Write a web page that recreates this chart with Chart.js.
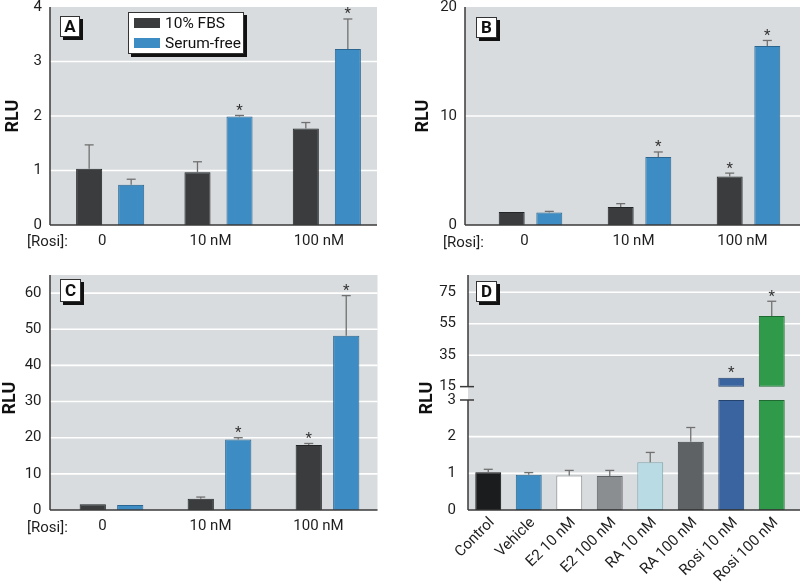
<!DOCTYPE html>
<html><head><meta charset="utf-8">
<script src="https://cdn.jsdelivr.net/npm/chart.js@4/dist/chart.umd.min.js"></script>
<style>
html,body{margin:0;padding:0;background:#fff;width:800px;height:586px;overflow:hidden}
#wrap{position:relative;width:800px;height:586px;overflow:hidden;background:#fff}
canvas{position:absolute}
</style></head><body>
<div id="wrap">
<canvas id="cA" width="400" height="260" style="left:0;top:0"></canvas>
<canvas id="cB" width="410" height="260" style="left:400px;top:0"></canvas>
<canvas id="cC" width="400" height="300" style="left:0;top:260px"></canvas>
<canvas id="cD" width="400" height="326" style="left:400px;top:260px"></canvas>
</div>
<script>
// ---------- data ----------
const rosiLabels = ['0', '10 nM', '100 nM'];
const seriesNames = ['10% FBS', 'Serum-free'];

const aFBS = [1.03, 0.97, 1.77];
const aFBSErr = [0.44, 0.19, 0.11];
const aFBSSig = [false, false, false];
const aSF = [0.74, 1.99, 3.23];
const aSFErr = [0.10, 0.02, 0.55];
const aSFSig = [false, true, true];
const aTicks = [0, 1, 2, 3, 4];

const bFBS = [1.2, 1.66, 4.45];
const bFBSErr = [0.03, 0.30, 0.31];
const bFBSSig = [false, false, true];
const bSF = [1.15, 6.24, 16.43];
const bSFErr = [0.10, 0.46, 0.50];
const bSFSig = [false, true, true];
const bTicks = [0, 10, 20];

const cFBS = [1.56, 3.1, 18.0];
const cFBSErr = [0.05, 0.48, 0.40];
const cFBSSig = [false, false, true];
const cSF = [1.38, 19.5, 48.2];
const cSFErr = [0.05, 0.50, 11.1];
const cSFSig = [false, true, true];
const cTicks = [0, 10, 20, 30, 40, 50, 60];

const dLabels = ['Control', 'Vehicle', 'E2 10 nM', 'E2 100 nM', 'RA 10 nM', 'RA 100 nM', 'Rosi 10 nM', 'Rosi 100 nM'];
const dValues = [1.03, 0.96, 0.94, 0.93, 1.30, 1.86, 20.7, 59.9];
const dErr = [0.08, 0.06, 0.14, 0.15, 0.27, 0.39, 0.40, 9.4];
const dSig = [false, false, false, false, false, false, true, true];
const dLowTicks = [0, 1, 2, 3];
const dHighTicks = [15, 35, 55, 75];
const dLowMax = 3;
const dHighMin = 15;

// ---------- styles ----------
const FONT = "Roboto,'Liberation Sans',Arial,sans-serif";
const BG = '#d9dcde';
const AXIS = '#3a3a3a';
const ERR = '#707070';
const TXT = '#1e1e1e';
const FS = 15;
const seriesColors = ['#3a3c3e', '#3d8dc4'];
const seriesBorders = ['#232527', '#2b6690'];
const dColors = ['#1b1c1e', '#3d8dc4', '#ffffff', '#8b8e90', '#b8dbe4', '#5f6264', '#3a64a0', '#2f9a4a'];
const dBorders = ['#101112', '#2b6690', '#8a8c8e', '#5e6163', '#7fa3ad', '#3d4042', '#24446f', '#1f6a33'];

Chart.defaults.font.family = FONT;
Chart.defaults.color = TXT;

function hline(ctx, x1, x2, y) { ctx.beginPath(); ctx.moveTo(x1, y); ctx.lineTo(x2, y); ctx.stroke(); }
function vline(ctx, x, y1, y2) { ctx.beginPath(); ctx.moveTo(x, y1); ctx.lineTo(x, y2); ctx.stroke(); }
function noPad(s) { s.paddingTop = 0; s.paddingBottom = 0; s.paddingLeft = 0; s.paddingRight = 0; }

const deco = {
  id: 'deco',
  beforeDatasetsDraw(chart, args, o) {
    const { ctx, chartArea: ca } = chart;
    const L = ca.left - o.bgL, R = o.bgR === 'edge' ? chart.width : ca.right + o.bgR;
    ctx.save();
    ctx.fillStyle = BG;
    ctx.fillRect(L, ca.top, R - L, ca.bottom - ca.top);
    ctx.strokeStyle = '#ffffff'; ctx.lineWidth = 1.6;
    o.grid.forEach(g => {
      const s = chart.scales[g.axis];
      g.values.forEach(v => hline(ctx, L, R, s.getPixelForValue(v)));
    });
    ctx.restore();
  },
  afterDatasetsDraw(chart, args, o) {
    const { ctx, chartArea: ca } = chart;
    const L = ca.left - o.bgL, R = o.bgR === 'edge' ? chart.width : ca.right + o.bgR;
    ctx.save();
    chart.data.datasets.forEach((ds, di) => {
      if (!ds.errors) return;
      const meta = chart.getDatasetMeta(di);
      const ys = chart.scales[meta.yAxisID];
      meta.data.forEach((bar, i) => {
        const e = ds.errors[i];
        if (e == null) return;
        const m = ds.means[i];
        const yTop = ys.getPixelForValue(m + e);
        const yBar = ys.getPixelForValue(m);
        ctx.strokeStyle = ERR; ctx.lineWidth = 1.3;
        if (yBar - yTop > 0.8) {
          vline(ctx, bar.x, yBar, yTop);
          hline(ctx, bar.x - 4.5, bar.x + 4.5, yTop);
        }
        if (ds.sig && ds.sig[i]) {
          ctx.fillStyle = '#333';
          ctx.font = '15px ' + FONT;
          ctx.textAlign = 'center'; ctx.textBaseline = 'alphabetic';
          const mt = ctx.measureText('*');
          const yc = yTop - 8;
          ctx.fillText('*', bar.x, yc + (mt.actualBoundingBoxAscent - mt.actualBoundingBoxDescent) / 2);
        }
      });
    });
    ctx.strokeStyle = AXIS; ctx.lineWidth = 1.5;
    hline(ctx, L, R, ca.bottom);
    if (o.brk) {
      const hi = chart.scales[o.brk.high], lo = chart.scales[o.brk.low];
      const yH = hi.getPixelForValue(o.brk.highMin), yL = lo.getPixelForValue(o.brk.lowMax);
      vline(ctx, L, ca.top, yH);
      vline(ctx, L, yL, ca.bottom);
      hline(ctx, L - 8, L + 6, yH);
      hline(ctx, L - 8, L + 6, yL);
    } else {
      vline(ctx, L, ca.top, ca.bottom);
    }
    ctx.restore();
  },
  afterDraw(chart, args, o) {
    const { ctx, chartArea: ca } = chart;
    ctx.save();
    const b = o.box;
    ctx.fillStyle = '#111';
    ctx.fillRect(b.x + 3, b.y + 3, b.w, b.h);
    ctx.fillStyle = '#fff';
    ctx.fillRect(b.x, b.y, b.w, b.h);
    ctx.strokeStyle = '#333'; ctx.lineWidth = 1;
    ctx.strokeRect(b.x + 0.5, b.y + 0.5, b.w - 1, b.h - 1);
    ctx.fillStyle = '#111';
    ctx.font = 'bold 17px ' + FONT;
    ctx.textAlign = 'center'; ctx.textBaseline = 'middle';
    ctx.fillText(o.letter, b.x + b.w / 2, b.y + b.h / 2 + 1);
    ctx.save();
    ctx.translate(o.rlu.x, o.rlu.y);
    ctx.rotate(-Math.PI / 2);
    ctx.font = 'bold 18px ' + FONT;
    ctx.fillStyle = '#111';
    ctx.fillText('RLU', 0, 0);
    ctx.restore();
    if (o.rosi) {
      ctx.font = FS + 'px ' + FONT;
      ctx.fillStyle = TXT;
      ctx.textAlign = 'left'; ctx.textBaseline = 'middle';
      ctx.fillText('[Rosi]:', o.rosi.x, ca.bottom + o.rosi.dy);
    }
    if (o.legend) {
      const lg = o.legend;
      ctx.fillStyle = '#111';
      ctx.fillRect(lg.x + 3, lg.y + 3, lg.w, lg.h);
      ctx.fillStyle = '#fff';
      ctx.fillRect(lg.x, lg.y, lg.w, lg.h);
      ctx.strokeStyle = '#333'; ctx.lineWidth = 1;
      ctx.strokeRect(lg.x + 0.5, lg.y + 0.5, lg.w - 1, lg.h - 1);
      chart.data.datasets.forEach((ds, i) => {
        const cy = lg.y + 11 + i * 20;
        ctx.fillStyle = ds.backgroundColor;
        ctx.fillRect(lg.x + 6, cy - 5, 26, 10);
        ctx.fillStyle = '#111';
        ctx.font = '15.5px ' + FONT;
        ctx.textAlign = 'left'; ctx.textBaseline = 'middle';
        ctx.fillText(ds.label, lg.x + 37, cy + 1);
      });
    }
    ctx.restore();
  }
};

function groupedChart(id, fbs, fbsErr, fbsSig, sf, sfErr, sfSig, ticks, ymax, geo) {
  const canvas = document.getElementById(id);
  return new Chart(canvas, {
    type: 'bar',
    data: {
      labels: rosiLabels,
      datasets: [
        { label: seriesNames[0], data: fbs, means: fbs, errors: fbsErr, sig: fbsSig,
          backgroundColor: seriesColors[0], borderColor: seriesBorders[0], borderWidth: 1,
          categoryPercentage: geo.cp, barPercentage: geo.bp },
        { label: seriesNames[1], data: sf, means: sf, errors: sfErr, sig: sfSig,
          backgroundColor: seriesColors[1], borderColor: seriesBorders[1], borderWidth: 1,
          categoryPercentage: geo.cp, barPercentage: geo.bp }
      ]
    },
    options: {
      responsive: false, animation: false, devicePixelRatio: 1,
      layout: { padding: { top: geo.top, right: canvas.width - geo.R, left: 0, bottom: 0 } },
      plugins: {
        legend: { display: false }, tooltip: { enabled: false },
        deco: geo.deco
      },
      scales: {
        x: {
          grid: { display: false, drawTicks: false }, border: { display: false },
          ticks: { font: { size: FS }, color: TXT, padding: 7, labelOffset: geo.lo },
          afterFit(s) { s.height = canvas.height - geo.bottom; noPad(s); }
        },
        y: {
          min: 0, max: ymax,
          grid: { display: false, drawTicks: false }, border: { display: false },
          afterBuildTicks(s) { s.ticks = ticks.map(v => ({ value: v })); },
          ticks: { font: { size: FS }, color: TXT, padding: geo.yp },
          afterFit(s) { s.width = geo.L; noPad(s); }
        }
      }
    },
    plugins: [deco]
  });
}

groupedChart('cA', aFBS, aFBSErr, aFBSSig, aSF, aSFErr, aSFSig, aTicks, 4,
  { cp: 0.776, bp: 0.62, top: 7, bottom: 225, L: 56, R: 381, lo: -8, yp: 14,
    deco: { bgL: 6, bgR: -4, grid: [{ axis: 'y', values: [1, 2, 3] }], letter: 'A',
      box: { x: 60, y: 16, w: 20, h: 21 }, rlu: { x: 13, y: 116 }, rosi: { x: 27, dy: 17 },
      legend: { x: 128, y: 12, w: 116, h: 42 } } });

groupedChart('cB', bFBS, bFBSErr, bFBSSig, bSF, bSFErr, bSFSig, bTicks, 20,
  { cp: 0.69, bp: 0.69, top: 7, bottom: 225, L: 76, R: 403, lo: -6, yp: 19,
    deco: { bgL: 11, bgR: 'edge', grid: [{ axis: 'y', values: [10] }], letter: 'B',
      box: { x: 76, y: 17, w: 21, h: 21 }, rlu: { x: 23, y: 116 }, rosi: { x: 43, dy: 18 } } });

groupedChart('cC', cFBS, cFBSErr, cFBSSig, cSF, cSFErr, cSFSig, cTicks, 65,
  { cp: 0.694, bp: 0.70, top: 15, bottom: 250, L: 57.5, R: 381.5, lo: -9, yp: 16,
    deco: { bgL: 7.5, bgR: -4, grid: [{ axis: 'y', values: [10, 20, 30, 40, 50, 60] }], letter: 'C',
      box: { x: 60, y: 19, w: 21, h: 23 }, rlu: { x: 10, y: 138 }, rosi: { x: 27, dy: 18 } } });

(function () {
  const canvas = document.getElementById('cD');
  const lowData = dValues.map(v => Math.min(v, dLowMax));
  const lowErr = dValues.map((v, i) => v <= dLowMax ? dErr[i] : null);
  const highData = dValues.map(v => v > dHighMin ? [dHighMin, v] : null);
  const highErr = dValues.map((v, i) => v > dHighMin ? dErr[i] : null);
  new Chart(canvas, {
    type: 'bar',
    data: {
      labels: dLabels,
      datasets: [
        { label: 'RLU', data: lowData, means: dValues, errors: lowErr, sig: dSig, yAxisID: 'yLow',
          backgroundColor: dColors, borderColor: dBorders, borderWidth: 1, borderSkipped: false,
          grouped: false, categoryPercentage: 1, barPercentage: 0.64 },
        { label: 'RLU ', data: highData, means: dValues, errors: highErr, sig: dSig, yAxisID: 'yHigh',
          backgroundColor: dColors, borderColor: dBorders, borderWidth: 1, borderSkipped: false,
          grouped: false, categoryPercentage: 1, barPercentage: 0.64 }
      ]
    },
    options: {
      responsive: false, animation: false, devicePixelRatio: 1,
      layout: { padding: { top: 15, right: canvas.width - 392, left: 0, bottom: 0 } },
      plugins: {
        legend: { display: false }, tooltip: { enabled: false },
        deco: { bgL: 0, bgR: 'edge',
          grid: [{ axis: 'yLow', values: [1, 2] }, { axis: 'yHigh', values: [35, 55, 75] }],
          brk: { low: 'yLow', high: 'yHigh', lowMax: dLowMax, highMin: dHighMin },
          letter: 'D', box: { x: 76, y: 21, w: 21, h: 21 }, rlu: { x: 27, y: 138 } }
      },
      scales: {
        x: {
          grid: { display: false, drawTicks: false }, border: { display: false },
          ticks: { font: { size: FS }, color: TXT, padding: 4, minRotation: 45, maxRotation: 45, autoSkip: false, labelOffset: 4 },
          afterFit(s) { s.height = canvas.height - 250; noPad(s); }
        },
        yLow: {
          type: 'linear', position: 'left', stack: 'd', stackWeight: 110, min: 0, max: dLowMax,
          grid: { display: false, drawTicks: false }, border: { display: false },
          afterBuildTicks(s) { s.ticks = dLowTicks.map(v => ({ value: v })); },
          ticks: { font: { size: FS }, color: TXT, padding: 12 },
          afterFit(s) { s.width = 68; noPad(s); }
        },
        yHigh: {
          type: 'linear', position: 'left', stack: 'd', stackWeight: 125, min: 6.5, max: 86,
          grid: { display: false, drawTicks: false }, border: { display: false },
          afterBuildTicks(s) { s.ticks = dHighTicks.map(v => ({ value: v })); },
          ticks: { font: { size: FS }, color: TXT, padding: 12 },
          afterFit(s) { s.width = 68; noPad(s); }
        }
      }
    },
    plugins: [deco]
  });
})();
</script>
</body></html>
